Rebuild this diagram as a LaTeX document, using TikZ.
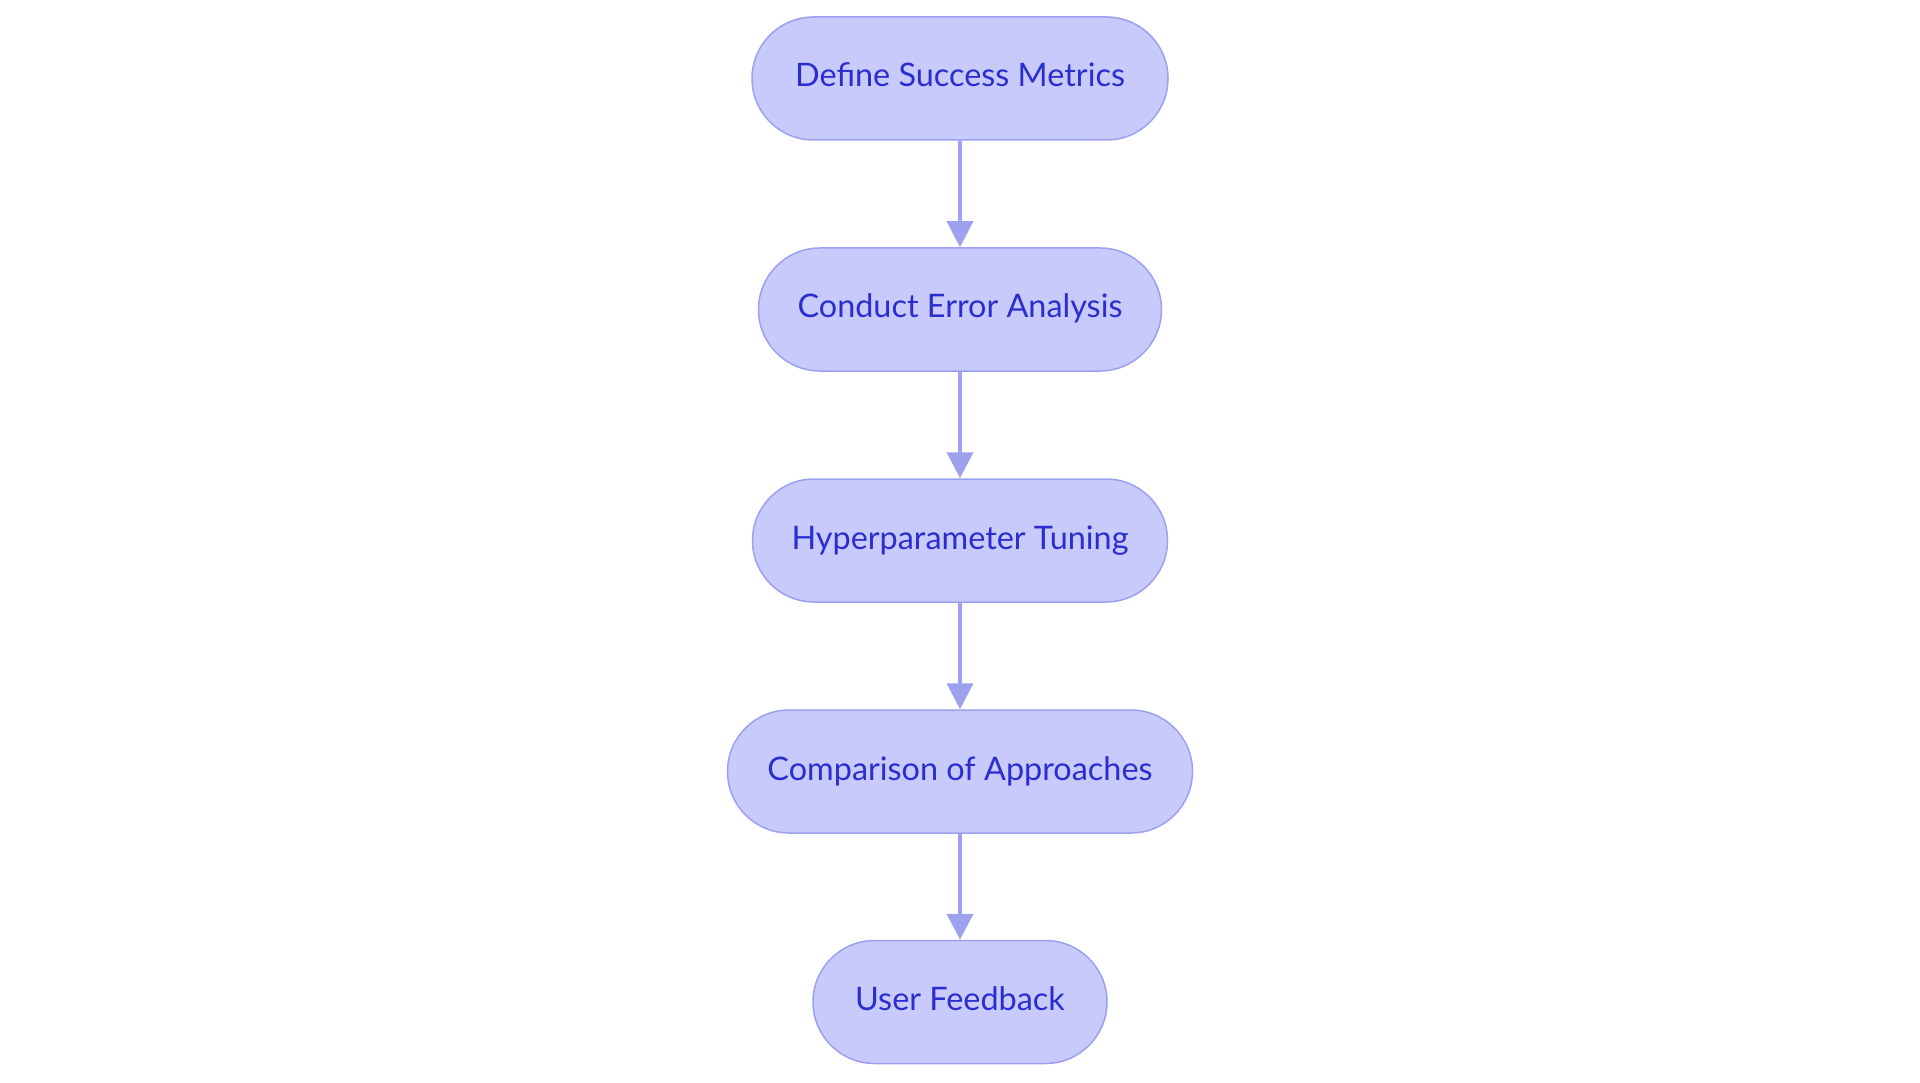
\documentclass[tikz,border=0pt]{standalone}
\usepackage{fontspec}
\setmainfont{Lato}
\usetikzlibrary{arrows.meta}
\definecolor{boxfill}{HTML}{C9CAFC}
\definecolor{boxline}{HTML}{9BA0EF}
\definecolor{boxtext}{HTML}{2A2ECF}
\definecolor{arrowc}{HTML}{9EA1EE}
\tikzset{
  flowbox/.style={draw=boxline, line width=1.5pt, fill=boxfill, text=boxtext,
    minimum height=123pt, rounded corners=61.5pt, inner sep=0pt,
    text height=23pt, text depth=6pt,
    font=\fontsize{32.4pt}{38pt}\selectfont},
  flowarrow/.style={draw=arrowc, line width=4pt, -{Triangle[length=26pt,width=26pt]}}
}
\begin{document}
\begin{tikzpicture}[x=1pt,y=1pt]
\useasboundingbox (0,0) rectangle (1920,-1083);
\node[flowbox, minimum width=416pt] (a) at (960,-78.5) {Define Success Metrics};
\node[flowbox, minimum width=403pt] (b) at (960,-309.5) {Conduct Error Analysis};
\node[flowbox, minimum width=415pt] (c) at (960,-540.5) {Hyperparameter Tuning};
\node[flowbox, minimum width=465pt] (d) at (960,-771.5) {Comparison of Approaches};
\node[flowbox, minimum width=294pt] (e) at (960,-1002) {User Feedback};
\draw[flowarrow] (a) -- (b);
\draw[flowarrow] (b) -- (c);
\draw[flowarrow] (c) -- (d);
\draw[flowarrow] (d) -- (e);
\end{tikzpicture}
\end{document}
